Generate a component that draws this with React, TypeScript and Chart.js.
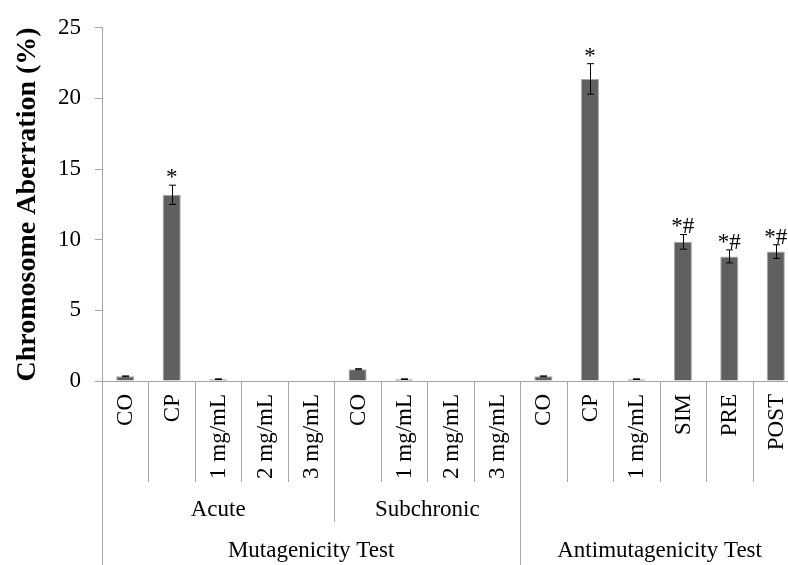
import React, { useEffect, useRef } from "react";
import { Chart, registerables } from "chart.js";

Chart.register(...registerables);

const categories = [
  "CO", "CP", "1 mg/mL", "2 mg/mL", "3 mg/mL",
  "CO", "1 mg/mL", "2 mg/mL", "3 mg/mL",
  "CO", "CP", "1 mg/mL", "SIM", "PRE", "POST",
];
const values = [0.33, 13.18, 0.13, 0, 0, 0.83, 0.13, 0, 0, 0.33, 21.38, 0.13, 9.85, 8.82, 9.16];
const errors = [0.03, 0.68, 0.02, 0, 0, 0.04, 0.02, 0, 0, 0.03, 1.08, 0.02, 0.52, 0.46, 0.48];
const marks = ["", "*", "", "", "", "", "", "", "", "", "*", "", "*#", "*#", "*#"];
const subGroups = [
  { label: "Acute", start: 0, end: 4 },
  { label: "Subchronic", start: 5, end: 8 },
  { label: "", start: 9, end: 14 },
];
const mainGroups = [
  { label: "Mutagenicity Test", start: 0, end: 8 },
  { label: "Antimutagenicity Test", start: 9, end: 14 },
];
const yTicks = [0, 5, 10, 15, 20, 25];

const FONT = "'Liberation Serif', 'Times New Roman', serif";
const AXIS = "#a6a6a6";

const overlay = {
  id: "overlay",
  afterDatasetsDraw(chart: any) {
    const { ctx, chartArea } = chart;
    const xs = chart.scales.x;
    const ys = chart.scales.y;
    const H = chart.height;
    const base = chartArea.bottom;
    ctx.save();
    // error bars
    ctx.strokeStyle = "#000";
    ctx.lineWidth = 1;
    values.forEach((v, i) => {
      const e = errors[i];
      if (!e) return;
      const x = Math.round(xs.getPixelForValue(i)) + 0.5;
      const yt = ys.getPixelForValue(v + e);
      const yb = ys.getPixelForValue(v - e);
      ctx.beginPath();
      ctx.moveTo(x, yt);
      ctx.lineTo(x, yb);
      ctx.moveTo(x - 3.5, yt);
      ctx.lineTo(x + 3.5, yt);
      ctx.moveTo(x - 3.5, yb);
      ctx.lineTo(x + 3.5, yb);
      ctx.stroke();
    });
    // significance marks
    ctx.fillStyle = "#000";
    ctx.font = `23px ${FONT}`;
    ctx.textAlign = "center";
    ctx.textBaseline = "alphabetic";
    marks.forEach((m, i) => {
      if (!m) return;
      const x = xs.getPixelForValue(i);
      const yt = ys.getPixelForValue(values[i] + errors[i]);
      ctx.fillText(m, x, yt - 1);
    });
    // category labels (rotated)
    categories.forEach((c, i) => {
      const x = xs.getPixelForValue(i);
      ctx.save();
      ctx.translate(x, base + 13);
      ctx.rotate(-Math.PI / 2);
      ctx.textAlign = "right";
      ctx.textBaseline = "middle";
      ctx.fillText(c, 0, 1);
      ctx.restore();
    });
    // dividers
    const bound = (i: number) => {
      if (i <= 0) return chartArea.left;
      if (i >= categories.length) return chartArea.right;
      return (xs.getPixelForValue(i - 1) + xs.getPixelForValue(i)) / 2;
    };
    const row1 = 482;
    const row2 = 522;
    ctx.strokeStyle = AXIS;
    ctx.lineWidth = 1;
    const vline = (x: number, y1: number, y2: number) => {
      const xx = Math.round(x) + 0.5;
      ctx.beginPath();
      ctx.moveTo(xx, y1);
      ctx.lineTo(xx, y2);
      ctx.stroke();
    };
    for (let i = 0; i <= categories.length; i++) {
      let end = row1;
      if (subGroups.some((g) => g.start === i || g.end + 1 === i)) end = row2;
      if (mainGroups.some((g) => g.start === i || g.end + 1 === i)) end = H;
      vline(bound(i), base, end);
    }
    // group labels
    ctx.fillStyle = "#000";
    ctx.textAlign = "center";
    ctx.textBaseline = "middle";
    subGroups.forEach((g) => {
      if (!g.label) return;
      const cx = (bound(g.start) + bound(g.end + 1)) / 2;
      ctx.fillText(g.label, cx, 510);
    });
    mainGroups.forEach((g) => {
      const cx = (bound(g.start) + bound(g.end + 1)) / 2;
      ctx.fillText(g.label, cx, 551);
    });
    ctx.restore();
  },
};

export default function App() {
  const ref = useRef<HTMLCanvasElement>(null);
  useEffect(() => {
    if (!ref.current) return;
    const chart = new Chart(ref.current, {
      type: "bar",
      data: {
        labels: categories,
        datasets: [
          {
            data: values,
            backgroundColor: "#606060",
            borderColor: "#a8a8a8",
            borderWidth: 1,
            categoryPercentage: 1,
            barPercentage: 0.39,
          },
        ],
      },
      options: {
        animation: false,
        responsive: false,
        devicePixelRatio: 1,
        layout: { padding: { top: 20, right: 1, left: 0, bottom: 0 } },
        plugins: { legend: { display: false }, tooltip: { enabled: false } },
        scales: {
          x: {
            type: "category",
            ticks: { display: false },
            grid: { display: false },
            border: { display: true, color: AXIS, width: 1 },
            afterFit: (s: any) => {
              s.height = 184;
            },
          },
          y: {
            min: 0,
            max: 25,
            afterBuildTicks: (s: any) => {
              s.ticks = yTicks.map((v) => ({ value: v }));
            },
            ticks: {
              font: { family: FONT, size: 23 },
              color: "#000",
              padding: 14,
            },
            grid: { display: true, drawOnChartArea: false, drawTicks: true, tickLength: 7, color: AXIS },
            border: { display: true, color: AXIS, width: 1 },
            title: {
              display: true,
              text: "Chromosome Aberration (%)",
              font: { family: FONT, size: 28, weight: "bold" },
              color: "#000",
              padding: { top: 11, bottom: 0 },
            },
            afterFit: (s: any) => {
              s.width = 102;
            },
          },
        },
      },
      plugins: [overlay],
    });
    return () => chart.destroy();
  }, []);
  return (
    <div style={{ position: "absolute", left: 0, top: 0, width: 788, height: 565, overflow: "hidden", background: "#fff" }}>
      <canvas ref={ref} width={800} height={565} style={{ display: "block" }} />
    </div>
  );
}
